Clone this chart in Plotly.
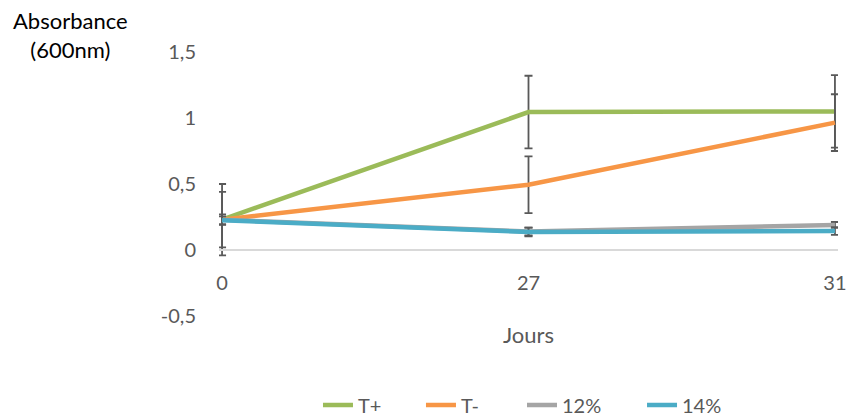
import plotly.graph_objects as go

days = ["0", "27", "31"]
t_plus = [0.23, 1.045, 1.05]
t_plus_err = [0.27, 0.275, 0.275]
t_minus = [0.23, 0.495, 0.965]
t_minus_err = [0.21, 0.215, 0.215]
p12 = [0.23, 0.14, 0.19]
p12_err = [0.04, 0.03, 0.022]
p14 = [0.225, 0.137, 0.144]
p14_err = [0.03, 0.033, 0.03]
y_ticks = [-0.5, 0, 0.5, 1, 1.5]
y_tick_text = ["-0,5", "0", "0,5", "1", "1,5"]

series = [
    ("T+", t_plus, t_plus_err, "#9BBB59"),
    ("T-", t_minus, t_minus_err, "#F79646"),
    ("12%", p12, p12_err, "#A5A5A5"),
    ("14%", p14, p14_err, "#4BACC6"),
]
legend_ids = ["legend", "legend2", "legend3", "legend4"]
legend_x = [0.1599, 0.3263, 0.4895, 0.6834]

fig = go.Figure()
for (name, vals, errs, col), lid in zip(series, legend_ids):
    fig.add_trace(go.Scatter(
        x=days, y=vals, name=name, mode="lines",
        line=dict(color=col, width=4.5),
        error_y=dict(type="data", array=errs, visible=True,
                     color="#595959", thickness=1.8, width=4),
        cliponaxis=False, legend=lid,
    ))

font_family = "Lato, 'Open Sans', sans-serif"
legend_common = dict(orientation="h", xanchor="left", y=0.031, yanchor="middle",
                     yref="container", font=dict(size=20, color="#595959"),
                     bgcolor="rgba(0,0,0,0)", borderwidth=0)
legend_layout = {lid: dict(x=lx, **legend_common) for lid, lx in zip(legend_ids, legend_x)}

fig.update_layout(
    width=848, height=418,
    margin=dict(l=219, r=10, t=52, b=102, autoexpand=False),
    paper_bgcolor="white", plot_bgcolor="white",
    separators=",.",
    font=dict(family=font_family, size=20, color="#595959"),
    showlegend=True,
    xaxis=dict(
        type="category", range=[-0.01, 2.01], automargin=False,
        showgrid=False, zeroline=False,
        showline=True, linecolor="#D9D9D9", linewidth=1.5,
        anchor="free", position=0.25,
        ticks="", ticklabelstandoff=15,
        tickfont=dict(size=20, color="#595959"),
        title=dict(text="Jours", font=dict(size=22, color="#595959"), standoff=34),
    ),
    yaxis=dict(
        range=[-0.5, 1.5], tickvals=y_ticks, ticktext=y_tick_text,
        automargin=False,
        showgrid=False, zeroline=False, showline=False,
        ticks="", ticklabelstandoff=22,
        tickfont=dict(size=20, color="#595959"),
    ),
    annotations=[dict(
        text="Absorbance<br>(600nm)", xref="paper", yref="paper",
        x=-0.2407, y=1.178, xanchor="center", yanchor="top", showarrow=False,
        font=dict(size=22, color="#000000"), align="center",
    )],
    **legend_layout,
)
fig.write_html("out.html", config={"displayModeBar": False},
               post_script="document.body.style.margin='0';document.body.style.padding='0';")
